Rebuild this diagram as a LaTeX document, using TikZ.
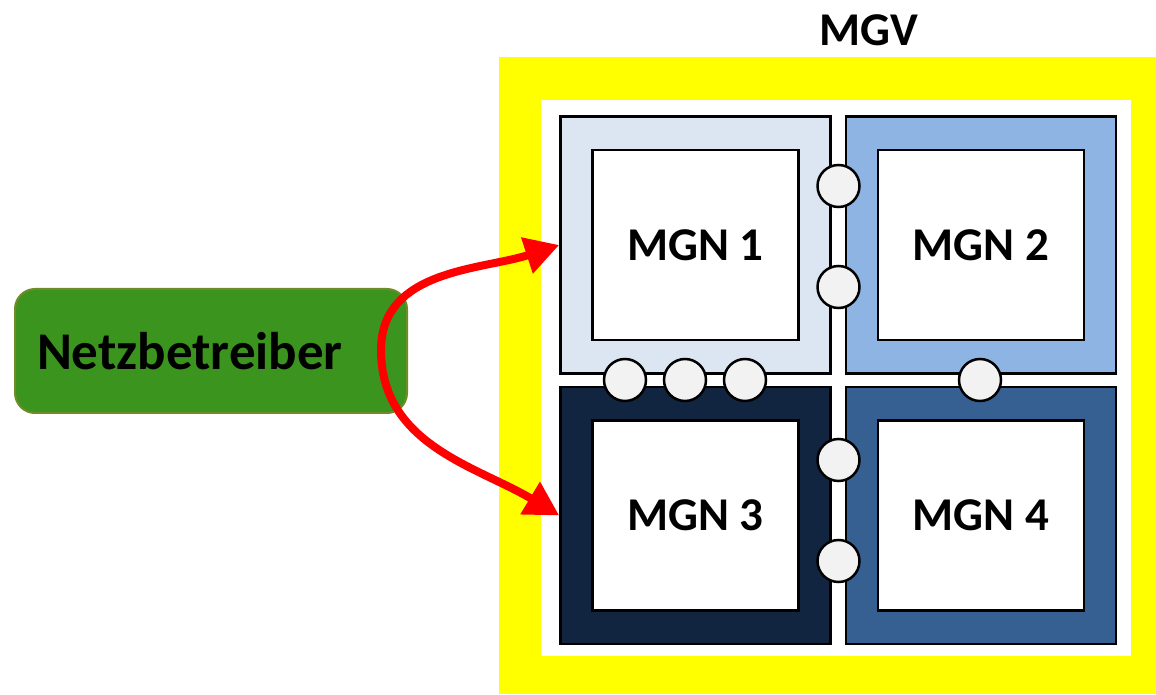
\documentclass[tikz,border=0pt]{standalone}
\usepackage{fontspec}
\setmainfont{Carlito}
\usepackage{tikz}
\usetikzlibrary{
    positioning,
    arrows.meta
}

\definecolor{mgvyellow}{RGB}{255,255,0}
\definecolor{mgnA}{RGB}{220,230,242}
\definecolor{mgnB}{RGB}{142,180,227}
\definecolor{mgnC}{RGB}{17,37,64}
\definecolor{mgnD}{RGB}{55,96,146}
\definecolor{portgray}{RGB}{242,242,242}
\definecolor{netzgreen}{RGB}{58,148,30}
\definecolor{netzborder}{RGB}{112,140,40}
\definecolor{arrowred}{RGB}{255,0,0}

\begin{document}
\begin{tikzpicture}[
    x=1pt, y=1pt,
    every node/.style={font=\bfseries\fontsize{47}{56}\selectfont},
    frame/.style={rectangle, inner sep=0pt},
    cell/.style={rectangle, draw, line width=2.5pt, minimum width=270pt, minimum height=257pt},
    core/.style={cell, fill=white, minimum width=206pt, minimum height=190pt},
    port/.style={circle, draw, line width=2.5pt, fill=portgray, minimum size=42pt, inner sep=0pt},
    operator/.style={rectangle, rounded corners=20pt, draw=netzborder, line width=2pt, fill=netzgreen,
        minimum width=392pt, minimum height=124pt, text width=348pt, align=left,
        font=\bfseries\fontsize{53}{62}\selectfont},
    arrow/.style={-{Triangle[length=34pt, width=36pt]}, line width=8pt, arrowred}
]
\useasboundingbox (0,0) rectangle (1156,694);

% ================= MGV =================
\node[frame, fill=mgvyellow, minimum width=657pt, minimum height=637pt] (mgv) at (827.5,318.5) {};
\node[frame, fill=white, minimum width=590pt, minimum height=556pt] (mgvin) at (836,316) {};
\node (title) at (869,664) {MGV};

% ================= MGN =================
\node[cell, fill=mgnA] (mgn1) at (695.5,449) {};
\node[cell, fill=mgnB, right=13pt of mgn1] (mgn2) {};
\node[cell, fill=mgnC, below=11pt of mgn1] (mgn3) {};
\node[cell, fill=mgnD, right=13pt of mgn3] (mgn4) {};

\node[core] (core1) at (mgn1) {MGN 1};
\node[core] (core2) at (mgn2) {MGN 2};
\node[core] (core3) at (mgn3) {MGN 3};
\node[core] (core4) at (mgn4) {MGN 4};

% ================= PORTS =================
\node[port] (p12a) at (838.5,508) {};
\node[port] (p12b) at (838.5,407) {};
\node[port] (p13a) at (625,314) {};
\node[port] (p13b) at (685,314) {};
\node[port] (p13c) at (745,314) {};
\node[port] (p24) at (980,314) {};
\node[port] (p34a) at (838.5,234) {};
\node[port] (p34b) at (838.5,133) {};

% ================= OPERATOR =================
\node[operator] (netz) at (211,343) {Netzbetreiber};

% ================= ARROWS =================
\coordinate (fork) at (381,344);
\draw[arrow] (fork) to[out=90, in=198] (mgn1.west);
\draw[arrow] (fork) to[out=270, in=149] (mgn3.west);

\end{tikzpicture}
\end{document}
